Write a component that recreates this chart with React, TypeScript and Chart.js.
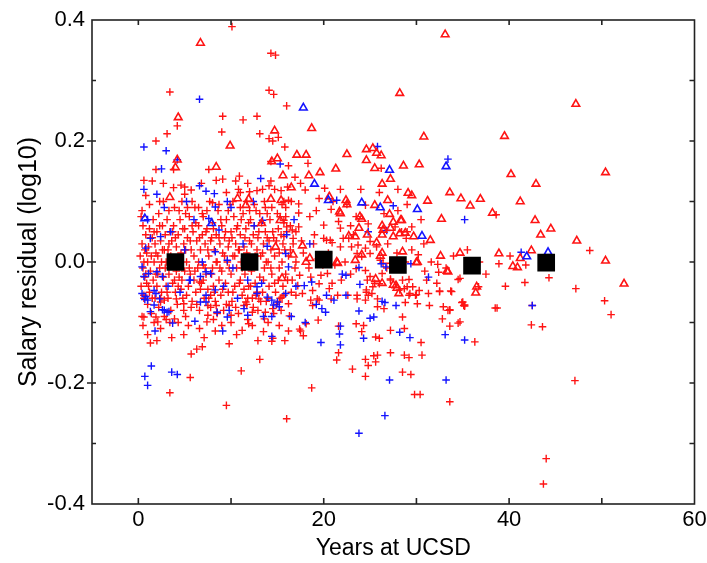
import { useEffect, useRef } from 'react';
import { Chart, registerables } from 'chart.js';

Chart.register(...registerables);

type P = [number, number];

// Tick labels
const xTickValues = [0, 20, 40, 60];
const yTickValues = [-0.4, -0.2, 0, 0.2, 0.4];
const xMinorTicks = [0, 10, 20, 30, 40, 50];
const yMinorTicks = [-0.3, -0.2, -0.1, 0, 0.1, 0.2, 0.3];

// Binned means (black squares)
const meanX = [4, 12, 20, 28, 36, 44];
const meanY = [0.0, 0.0, 0.004, -0.005, -0.006, -0.001];

// Red crosses – dense core (0–17 yrs)
const redCrossCore: P[] = [
  [0.2,0.01],[0.3,-0.04],[0.4,0.03],[0.5,-0.01],[0.5,0.06],[0.6,-0.06],[0.7,0.02],[0.8,-0.02],[0.8,0.045],[0.9,-0.035],
  [1.0,0.0],[1.0,-0.07],[1.1,0.025],[1.2,-0.05],[1.2,0.055],[1.3,-0.015],[1.4,0.01],[1.4,-0.085],[1.5,0.04],[1.6,-0.03],
  [1.6,0.07],[1.7,0.0],[1.8,-0.06],[1.8,0.03],[1.9,-0.02],[2.0,0.05],[2.0,-0.04],[2.1,0.01],[2.2,-0.075],[2.2,0.08],
  [2.3,-0.01],[2.4,0.035],[2.5,-0.05],[2.5,0.0],[2.6,0.06],[2.7,-0.025],[2.8,0.02],[2.8,-0.09],[2.9,0.045],[3.0,-0.04],
  [3.0,0.0],[3.1,0.07],[3.2,-0.06],[3.2,0.02],[3.3,-0.02],[3.4,0.05],[3.5,-0.08],[3.5,0.01],[3.6,0.035],[3.7,-0.035],
  [3.8,0.06],[3.8,-0.005],[3.9,0.09],[4.0,-0.05],[4.1,0.025],[4.2,-0.07],[4.3,0.045],[4.4,-0.025],[4.5,0.07],[4.6,-0.045],
  [4.6,0.015],[4.7,0.1],[4.8,-0.06],[4.9,0.03],[5.0,-0.015],[5.0,0.055],[5.1,-0.09],[5.2,0.0],[5.3,0.04],[5.4,-0.04],
  [5.5,0.075],[5.6,-0.02],[5.7,0.02],[5.8,-0.065],[5.9,0.05],[6.0,-0.03],[6.0,0.01],[6.1,0.09],[6.2,-0.05],[6.3,0.035],
  [6.4,-0.01],[6.5,0.06],[6.6,-0.08],[6.7,0.02],[6.8,-0.035],[6.9,0.045],[7.0,-0.005],[7.0,0.075],[7.1,-0.06],[7.2,0.03],
  [7.3,-0.02],[7.4,0.055],[7.5,-0.045],[7.6,0.01],[7.7,0.1],[7.8,-0.075],[7.9,0.04],[8.0,-0.01],[8.0,0.065],[8.1,-0.04],
  [8.2,0.02],[8.3,-0.065],[8.4,0.045],[8.5,0.0],[8.6,0.085],[8.7,-0.03],[8.8,0.03],[8.9,-0.055],[9.0,0.06],[9.0,-0.015],
  [9.1,0.015],[9.2,-0.08],[9.3,0.04],[9.4,-0.035],[9.5,0.07],[9.6,0.0],[9.7,-0.05],[9.8,0.035],[9.9,0.095],[10.0,-0.02],
  [10.0,0.05],[10.1,-0.065],[10.2,0.01],[10.3,0.075],[10.4,-0.04],[10.5,0.03],[10.6,-0.01],[10.7,0.06],[10.8,-0.085],[10.9,0.02],
  [11.0,-0.03],[11.0,0.045],[11.1,0.0],[11.2,-0.055],[11.3,0.08],[11.4,0.025],[11.5,-0.02],[11.6,0.055],[11.7,-0.07],[11.8,0.01],
  [11.9,-0.04],[12.0,0.035],[12.1,0.07],[12.2,-0.015],[12.3,-0.06],[12.4,0.045],[12.5,0.0],[12.6,-0.035],[12.7,0.085],[12.8,0.02],
  [12.9,-0.08],[13.0,0.05],[13.1,-0.025],[13.2,0.01],[13.3,0.065],[13.4,-0.05],[13.5,0.03],[13.6,-0.01],[13.7,0.09],[13.8,-0.065],
  [13.9,0.04],[14.0,0.0],[14.1,-0.04],[14.2,0.07],[14.3,0.02],[14.4,-0.02],[14.5,0.05],[14.6,-0.085],[14.7,0.01],[14.8,-0.05],
  [14.9,0.035],[15.0,0.08],[15.1,-0.03],[15.2,0.015],[15.3,-0.06],[15.4,0.045],[15.5,0.0],[15.6,-0.04],[15.7,0.065],[15.8,0.02],
  [15.9,-0.02],[16.0,0.05],
  [0.3,0.075],[0.4,-0.09],[0.6,0.0],[0.7,-0.025],[0.9,0.015],[1.1,-0.04],[1.3,0.04],[1.5,-0.06],[1.7,0.05],[1.9,0.015],
  [2.1,-0.02],[2.3,0.06],[2.4,-0.06],[2.6,0.02],[2.7,0.1],[2.9,-0.01],[3.1,-0.05],[3.3,0.03],[3.4,-0.1],[3.6,0.0],
  [3.7,0.05],[3.9,-0.03],[4.0,0.04],[4.1,-0.015],[4.3,-0.04],[4.4,0.085],[4.5,-0.005],[4.7,-0.03],[4.8,0.055],[4.9,-0.08],
  [5.1,0.02],[5.2,-0.055],[5.3,0.09],[5.5,-0.01],[5.6,0.035],[5.7,-0.075],[5.8,0.06],[6.1,-0.015],[6.2,0.065],[6.3,-0.07],
  [6.5,0.0],[6.6,0.04],[6.7,-0.045],[6.9,0.08],[7.0,-0.03],[7.2,-0.01],[7.3,0.05],[7.5,0.02],[7.6,-0.06],[7.8,0.035],
  [7.9,-0.02],[8.1,0.055],[8.2,-0.05],[8.4,0.0],[8.5,-0.085],[8.7,0.04],[8.8,-0.01],[8.9,0.07],[9.1,-0.045],[9.3,0.01],
  [9.4,0.05],[9.5,-0.07],[9.7,0.025],[9.8,-0.01],[10.1,0.04],[10.2,-0.05],[10.4,0.01],[10.5,-0.075],[10.6,0.055],[10.8,0.02],
  [10.9,-0.035],[11.1,0.07],[11.2,-0.01],[11.4,-0.045],[11.5,0.04],[11.7,0.015],[11.8,-0.06],[11.9,0.065],[12.1,-0.04],[12.2,0.03],
  [12.4,-0.075],[12.5,0.06],[12.6,0.01],[12.8,-0.05],[12.9,0.04],[13.1,0.08],[13.2,-0.065],[13.4,0.015],[13.5,-0.03],[13.7,0.05],
  [13.8,0.0],[14.0,-0.06],[14.1,0.035],[14.3,-0.01],[14.4,0.09],[14.6,0.04],[14.7,-0.035],[14.9,-0.07],[15.1,0.055],[15.2,-0.01],
  [15.4,-0.08],[15.6,0.03],[15.7,-0.055],[15.9,0.075],[16.1,-0.03],[16.2,0.01],[16.4,0.06],[16.5,-0.05],[16.7,0.03],[16.9,-0.01],
  [17.0,0.05],
];

// Red crosses – upper spread (0–17 yrs)
const redCrossUpper: P[] = [
  [1.9,0.2],[3.1,0.212],[4.2,0.225],[3.4,0.281],[9.1,0.241],[11.3,0.235],[12.8,0.241],[9.0,0.215],[13.1,0.212],[14.1,0.204],
  [14.5,0.2],[15.1,0.206],[15.8,0.19],[10.1,0.389],[14.3,0.345],[14.8,0.342],[14.1,0.284],[14.6,0.277],[16.0,0.258],[1.9,0.153],
  [3.8,0.153],[7.6,0.153],[14.3,0.166],[16.2,0.159],[1.5,0.134],[9.1,0.137],[10.9,0.142],[10.5,0.134],[14.3,0.134],[3.8,0.123],
  [4.6,0.127],[5.0,0.124],[5.7,0.119],[5.0,0.112],[9.5,0.115],[10.8,0.12],[11.0,0.115],[12.0,0.116],[12.8,0.118],[13.4,0.12],
  [14.1,0.126],[14.7,0.12],[15.4,0.118],[16.1,0.124],[1.2,0.095],[2.3,0.1],[0.8,0.11],[5.8,0.1],[6.5,0.09],[8.0,0.098],
  [8.7,0.095],[10.2,0.1],[11.7,0.1],[12.5,0.095],[13.6,0.1],[15.5,0.095],[0.4,0.085],[3.3,0.085],[5.1,0.08],[7.4,0.085],
  [9.7,0.085],[11.0,0.09],[12.0,0.085],[13.9,0.08],[15.9,0.09],[16.5,0.1],[6.8,0.13],[8.4,0.135],[2.7,0.13],[0.6,0.135],
  [11.8,0.13],
];

// Red crosses – lower spread (0–17 yrs)
const redCrossLower: P[] = [
  [3.4,-0.216],[1.3,-0.134],[5.6,-0.191],[5.7,-0.152],[6.3,-0.144],[9.5,-0.237],[11.1,-0.18],[13.1,-0.161],[16.0,-0.259],[14.4,-0.131],
  [14.5,-0.126],[16.2,-0.114],[11.2,-0.113],[8.3,-0.114],[7.4,-0.099],[0.6,-0.091],[16.3,-0.089],[0.5,-0.105],[1.7,-0.1],[2.4,-0.11],
  [3.0,-0.095],[4.3,-0.1],[4.9,-0.12],[5.4,-0.105],[6.6,-0.11],[7.1,-0.125],[8.1,-0.095],[9.0,-0.105],[10.0,-0.1],[10.6,-0.12],
  [11.8,-0.095],[12.3,-0.105],[12.9,-0.13],[13.5,-0.115],[14.0,-0.1],[15.2,-0.105],[15.8,-0.13],[1.0,-0.12],[2.0,-0.13],[3.6,-0.125],
  [6.9,-0.14],[9.8,-0.135],[0.6,-0.055],[2.4,-0.066],[2.8,-0.063],[4.1,-0.061],[4.9,-0.069],[3.9,-0.094],[2.1,-0.099],[1.9,-0.091],
  [6.6,-0.033],[7.8,-0.055],[7.5,-0.072],[7.5,-0.088],[8.4,-0.072],[8.5,-0.083],[9.8,-0.072],[10.0,-0.088],[11.4,-0.072],[11.6,-0.066],
  [12.7,-0.055],[13.0,-0.061],[13.7,-0.083],[13.6,-0.094],[12.3,-0.083],[11.9,-0.102],[14.5,-0.077],[15.2,-0.066],[15.5,-0.058],[16.2,-0.069],
];

// Red crosses – mid and senior (17+ yrs)
const redCrossSenior: P[] = [
  [18.3,0.163],[20.1,0.122],[21.8,0.12],[18.0,0.119],[17.3,0.096],[22.5,0.095],[24.5,0.094],[26.2,0.155],[15.7,0.1],[16.2,0.102],
  [15.3,0.075],[15.7,0.069],[16.0,0.058],[15.7,0.042],[16.6,0.053],[17.3,0.058],[16.7,0.039],[20.0,0.061],[21.6,0.067],[21.8,0.056],
  [22.1,0.039],[20.0,0.039],[20.3,0.036],[20.7,0.036],[20.9,0.032],[21.8,0.025],[22.7,0.039],[23.0,0.025],[23.7,0.028],[23.6,0.014],
  [24.1,0.009],[27.7,0.058],[29.5,0.058],[29.0,0.05],[28.4,0.05],[28.9,0.039],[25.0,0.034],[25.7,0.025],[24.5,0.023],[25.0,0.014],
  [26.1,0.003],[26.4,-0.002],[27.2,-0.002],[26.8,-0.01],[26.3,-0.019],[27.2,-0.03],[25.5,-0.035],[25.0,-0.024],[25.2,-0.052],[24.6,-0.046],
  [24.5,-0.063],[30.2,0.012],[31.1,-0.03],[32.2,-0.035],[31.3,-0.052],[32.9,-0.074],[33.6,-0.079],[32.5,-0.049],[33.8,-0.049],[34.7,-0.027],
  [35.0,-0.066],[35.2,-0.071],[36.7,-0.041],[29.3,-0.052],[29.9,-0.055],[29.0,-0.041],[28.2,-0.046],
  [17.4,-0.022],[18.6,-0.025],[19.7,-0.022],[20.4,-0.019],[17.2,-0.039],[19.5,-0.036],[20.6,-0.044],[17.0,-0.055],[17.7,-0.052],
  [18.6,-0.063],[19.3,-0.061],[18.8,-0.047],[23.5,-0.011],[24.5,-0.014],[23.6,-0.055],[22.6,-0.055],[24.6,-0.05],[24.8,-0.055],[25.3,-0.041],
  [26.0,-0.036],[24.7,-0.03],[27.2,-0.028],[28.5,-0.03],[29.2,-0.029],[29.6,-0.041],[30.3,-0.047],[28.7,-0.044],[29.2,-0.055],[30.0,-0.054],
  [28.8,-0.067],[25.8,-0.061],[25.8,-0.074],[26.5,-0.077],[28.5,-0.091],[27.2,-0.113],[28.7,-0.11],[25.6,-0.124],[26.0,-0.126],[24.3,-0.105],
  [24.1,-0.115],[23.6,-0.061],[21.5,-0.055],[20.8,-0.061],[18.8,-0.072],[19.5,-0.063],[23.5,-0.102],[17.4,-0.111],[17.5,-0.114],[17.8,-0.122],
  [18.1,-0.102],[19.4,-0.096],[21.6,-0.106],[21.4,-0.162],[21.6,-0.15],[24.5,-0.161],[24.8,-0.171],[25.6,-0.165],[25.4,-0.155],[25.8,-0.154],
  [27.2,-0.15],[28.7,-0.154],[29.2,-0.158],[30.6,-0.154],[30.5,-0.133],[23.1,-0.177],[24.5,-0.189],[28.5,-0.182],[29.4,-0.186],[18.7,-0.208],
  [29.8,-0.219],[30.4,-0.219],[33.6,-0.231],[36.3,-0.132],[32.8,-0.094],[33.6,-0.106],[34.5,-0.101],[34.7,-0.099],[33.4,-0.08],[33.6,-0.08],
  [34.9,-0.067],[35.1,-0.072],[35.2,-0.073],[32.5,-0.048],[33.7,-0.048],[34.5,-0.029],[32.4,-0.017],[32.3,-0.004],[33.2,-0.01],[31.4,-0.072],
  [30.1,-0.069],[38.5,-0.076],
  [16.4,0.02],[17.0,0.0],[17.8,0.015],[18.9,0.03],[19.4,0.005],[20.5,0.015],[21.2,-0.005],[22.3,0.0],[22.9,-0.02],[21.9,-0.03],
  [20.9,-0.035],[19.9,-0.005],[18.4,-0.01],[16.6,-0.03],[17.6,0.035],[19.0,0.045],[23.2,0.045],[26.9,0.03],[27.9,0.015],[28.8,0.0],
  [29.5,0.02],[30.8,0.03],[31.6,0.0],[30.9,-0.015],
  [17.3,0.081],[18.5,0.075],[19.2,0.085],[20.8,0.087],[22.9,0.06],[23.5,0.075],[24.8,0.063],[26.5,0.08],[28.0,0.085],[29.0,0.095],
  [30.5,0.07],[21.0,0.1],[19.5,0.105],[16.9,0.14],[17.5,0.13],[24.0,0.12],[26.0,0.115],[28.0,0.12],
  [38.6,0.078],[48.7,0.019],[40.1,0.01],[41.8,-0.005],[38.9,-0.003],[39.6,-0.04],[41.7,-0.034],[44.3,-0.026],[47.2,-0.044],[38.7,-0.076],
  [42.5,-0.072],[50.3,-0.064],[51.0,-0.087],[42.4,-0.104],[43.6,-0.107],[47.1,-0.196],[44.0,-0.325],[43.7,-0.367],[35.5,0.02],[36.8,0.0],
  [37.5,-0.02],[34.0,0.01],[35.8,-0.01],
];

// Blue crosses
const blueCross: P[] = [
  [0.6,0.19],[3.0,0.184],[4.2,0.169],[2.5,0.154],[6.6,0.269],[13.2,0.138],[6.6,0.126],[7.3,0.117],[8.2,0.113],[2.0,0.112],
  [15.3,0.162],[25.8,0.191],[33.4,0.17],[21.4,0.102],[27.5,0.093],[35.2,0.07],[24.8,0.05],[26.8,0.052],[41.3,0.016],[12.4,0.1],
  [8.3,0.091],[9.6,0.1],[7.6,0.072],[8.7,0.053],[13.4,0.069],[16.0,0.045],[13.9,0.026],[1.3,0.039],[2.4,0.042],[0.8,0.023],
  [0.4,-0.008],[1.1,-0.019],[0.6,-0.024],[2.0,-0.016],[2.6,-0.024],[0.4,-0.052],[0.8,-0.057],[1.9,-0.052],[1.7,-0.071],[1.3,-0.082],
  [2.6,-0.079],[3.3,-0.082],[5.6,-0.03],[6.7,-0.024],[7.3,-0.016],[7.8,-0.019],[7.3,-0.055],[8.3,-0.046],[6.7,-0.066],[12.8,-0.041],
  [13.3,-0.035],[12.8,-0.052],[14.6,-0.071],[14.4,-0.09],[13.5,-0.09],[15.9,0.014],[16.2,-0.008],[8.3,0.017],[9.6,0.003],
  [0.7,-0.189],[1.0,-0.204],[1.4,-0.172],[3.6,-0.182],[4.2,-0.186],[14.4,-0.123],[9.1,-0.114],[1.8,-0.114],[6.1,-0.098],[3.7,-0.101],
  [23.8,-0.283],[26.6,-0.254],[27.1,-0.195],[33.2,-0.195],[19.7,-0.133],[21.8,-0.137],[21.7,-0.119],[21.8,-0.106],[24.3,-0.126],[29.3,-0.125],
  [28.2,-0.116],[33.1,-0.12],[35.2,-0.129],[31.3,-0.025],[42.5,-0.072],[25.0,-0.093],[25.4,-0.091],[26.3,-0.065],[26.6,-0.067],[27.8,-0.072],
  [23.8,-0.081],[22.4,-0.022],[23.8,-0.009],[26.2,-0.003],[26.7,-0.008],[29.4,-0.003],[17.9,-0.039],[18.7,-0.033],[20.3,-0.055],[20.2,-0.083],
  [21.1,-0.063],[19.8,-0.077],[22.4,-0.055],[23.9,-0.037],[0.7,-0.062],[1.0,-0.063],[1.7,-0.047],[2.3,-0.061],[2.8,-0.08],[3.1,-0.083],
  [7.3,-0.066],[8.5,-0.083],[9.6,-0.091],[9.8,-0.08],[11.4,-0.077],[11.8,-0.088],[13.9,-0.058],[15.0,-0.066],[14.4,-0.063],[15.2,-0.074],
  [15.9,-0.052],[3.5,0.05],[5.0,0.02],[6.0,0.07],[6.9,0.0],[9.2,-0.04],[10.2,-0.01],[10.7,-0.06],[11.3,0.03],[11.8,-0.03],
  [12.5,0.06],[4.5,-0.05],[5.5,-0.03],[3.2,-0.04],[10.0,0.09],[5.2,0.1],[2.8,0.09],[0.6,0.12],[1.0,0.07],[16.8,0.07],
  [17.0,-0.04],[18.5,0.03],[19.2,-0.07],[22.0,-0.02],[16.5,-0.09],[18.0,-0.1],
];

// Red triangles
const redTriangle: P[] = [
  [6.7,0.362],[33.1,0.376],[28.2,0.279],[47.2,0.261],[4.3,0.239],[18.7,0.221],[14.7,0.217],[30.8,0.207],[39.5,0.208],[9.9,0.192],
  [24.6,0.186],[25.3,0.188],[25.7,0.18],[26.2,0.176],[24.6,0.168],[17.1,0.177],[18.1,0.177],[22.5,0.178],[4.2,0.169],[4.0,0.156],
  [8.4,0.157],[15.0,0.171],[14.4,0.166],[15.6,0.143],[25.5,0.155],[28.6,0.159],[30.3,0.161],[21.3,0.154],[18.4,0.143],[19.6,0.148],
  [40.2,0.145],[50.4,0.148],[26.3,0.129],[27.2,0.137],[42.9,0.129],[16.5,0.123],[3.4,0.107],[10.7,0.105],[11.9,0.104],[11.6,0.094],
  [14.3,0.104],[15.4,0.102],[20.6,0.108],[22.4,0.102],[22.5,0.095],[25.5,0.094],[26.9,0.102],[29.1,0.114],[29.5,0.11],[31.2,0.101],
  [33.6,0.115],[34.8,0.105],[35.8,0.093],[36.9,0.104],[41.2,0.1],[38.2,0.081],[32.7,0.071],[42.8,0.069],[13.3,0.064],[15.3,0.069],
  [21.7,0.083],[21.8,0.08],[24.1,0.071],[23.9,0.075],[27.1,0.079],[28.3,0.069],[27.5,0.066],[26.3,0.06],[27.2,0.056],[26.4,0.053],
  [28.4,0.069],[23.8,0.056],[24.7,0.045],[22.7,0.043],[23.4,0.042],[25.7,0.032],[26.3,0.045],[27.5,0.042],[28.2,0.047],[28.8,0.048],
  [29.7,0.042],[31.5,0.036],[43.4,0.045],[44.5,0.055],[47.3,0.035],[14.8,0.025],[26.1,0.01],[26.3,0.015],[28.5,0.017],[30.0,-0.001],
  [32.6,0.01],[33.4,-0.016],[34.7,0.015],[38.9,0.014],[42.4,0.019],[41.2,0.006],[50.4,0.002],[40.4,-0.007],[40.9,-0.009],[52.4,-0.036],
  [36.4,-0.051],[36.5,-0.041],[17.7,0.027],[18.5,0.006],[21.4,0.0],[23.4,0.003],[24.1,0.012],[16.7,0.012],[26.3,-0.035],[27.5,-0.038],
  [28.1,-0.052],[27.9,-0.043],[15.5,-0.027],[18.1,0.0],[21.5,-0.002],[30.1,0.0],[27.8,-0.039],[25.6,-0.028],[33.3,-0.015],
];

// Blue triangles
const blueTriangle: P[] = [
  [17.8,0.255],[27.1,0.152],[33.2,0.158],[19.0,0.129],[20.5,0.102],[24.1,0.098],[26.1,0.09],[30.1,0.087],[30.6,0.043],[0.7,0.072],
  [7.9,0.064],[41.9,0.009],[44.2,0.016],
];

const FONT = '"Liberation Sans", Arial, Helvetica, sans-serif';
const RED = '#ff1414';
const BLUE = '#1414ff';

const toXY = (arr: P[]) => arr.map(([x, y]) => ({ x, y }));

const framePlugin = {
  id: 'frameTicks',
  afterDraw(chart: any) {
    const { ctx, chartArea: a, scales } = chart;
    const xs = scales.x;
    const ys = scales.y;
    ctx.save();
    ctx.strokeStyle = '#222';
    ctx.lineWidth = 1.6;
    ctx.strokeRect(a.left, a.top, a.right - a.left, a.bottom - a.top);
    ctx.beginPath();
    for (const v of xMinorTicks) {
      const px = xs.getPixelForValue(v);
      ctx.moveTo(px, a.bottom);
      ctx.lineTo(px, a.bottom - 6);
      ctx.moveTo(px, a.top);
      ctx.lineTo(px, a.top + 5);
    }
    for (const v of yMinorTicks) {
      const py = ys.getPixelForValue(v);
      const major = yTickValues.some((t) => Math.abs(t - v) < 1e-9);
      ctx.moveTo(a.left - (major ? 5 : 0), py);
      ctx.lineTo(a.left + 4, py);
      ctx.moveTo(a.right, py);
      ctx.lineTo(a.right - 5, py);
    }
    ctx.stroke();
    ctx.restore();
  },
};

export default function App() {
  const ref = useRef<HTMLCanvasElement | null>(null);

  useEffect(() => {
    document.body.style.margin = '0';
    const canvas = ref.current;
    if (!canvas) return;
    const redCross = [...redCrossCore, ...redCrossUpper, ...redCrossLower, ...redCrossSenior];
    const chart = new Chart(canvas, {
      type: 'scatter',
      data: {
        datasets: [
          {
            label: 'mean',
            data: meanX.map((x, i) => ({ x, y: meanY[i] })),
            pointStyle: 'rect',
            radius: 12.5,
            backgroundColor: '#000',
            borderColor: '#000',
            borderWidth: 0,
          },
          {
            label: 'blueTri',
            data: toXY(blueTriangle),
            pointStyle: 'triangle',
            radius: 4.4,
            backgroundColor: 'rgba(0,0,0,0)',
            borderColor: BLUE,
            borderWidth: 1.6,
          },
          {
            label: 'redTri',
            data: toXY(redTriangle),
            pointStyle: 'triangle',
            radius: 4.4,
            backgroundColor: 'rgba(0,0,0,0)',
            borderColor: RED,
            borderWidth: 1.6,
          },
          {
            label: 'blueCross',
            data: toXY(blueCross),
            pointStyle: 'cross',
            radius: 3.8,
            borderColor: BLUE,
            borderWidth: 1.4,
          },
          {
            label: 'redCross',
            data: toXY(redCross),
            pointStyle: 'cross',
            radius: 3.8,
            borderColor: RED,
            borderWidth: 1.4,
          },
        ],
      },
      options: {
        responsive: false,
        animation: false,
        events: [],
        layout: { padding: { top: 20, right: 11, left: 0, bottom: 0 } },
        plugins: { legend: { display: false }, tooltip: { enabled: false } },
        scales: {
          x: {
            type: 'linear',
            min: -5,
            max: 60,
            grid: { display: false, drawTicks: false },
            border: { display: false },
            afterBuildTicks: (s: any) => {
              s.ticks = xTickValues.map((v) => ({ value: v }));
            },
            afterFit: (s: any) => {
              s.height = 59;
              s.paddingLeft = 0;
              s.paddingRight = 0;
            },
            ticks: {
              autoSkip: false,
              maxRotation: 0,
              padding: 3,
              color: '#000',
              font: { family: FONT, size: 22 },
              callback: (v: any) => String(v),
            },
            title: {
              display: true,
              text: 'Years at UCSD',
              color: '#000',
              font: { family: FONT, size: 23 },
              padding: { top: 0, bottom: 1 },
            },
          },
          y: {
            type: 'linear',
            min: -0.4,
            max: 0.4,
            grid: { display: false, drawTicks: false },
            border: { display: false },
            afterBuildTicks: (s: any) => {
              s.ticks = yTickValues.map((v) => ({ value: v }));
            },
            afterFit: (s: any) => {
              s.width = 92;
              s.paddingTop = 0;
              s.paddingBottom = 0;
            },
            ticks: {
              autoSkip: false,
              padding: 7,
              color: '#000',
              font: { family: FONT, size: 22 },
              callback: (v: any) => Number(v).toFixed(1),
            },
            title: {
              display: true,
              text: 'Salary residual (log10)',
              color: '#000',
              font: { family: FONT, size: 25 },
              padding: { top: 14, bottom: 0 },
            },
          },
        },
      },
      plugins: [framePlugin],
    } as any);
    return () => chart.destroy();
  }, []);

  return (
    <div style={{ width: 707, height: 563 }}>
      <canvas ref={ref} width={707} height={563} style={{ display: 'block' }} />
    </div>
  );
}
